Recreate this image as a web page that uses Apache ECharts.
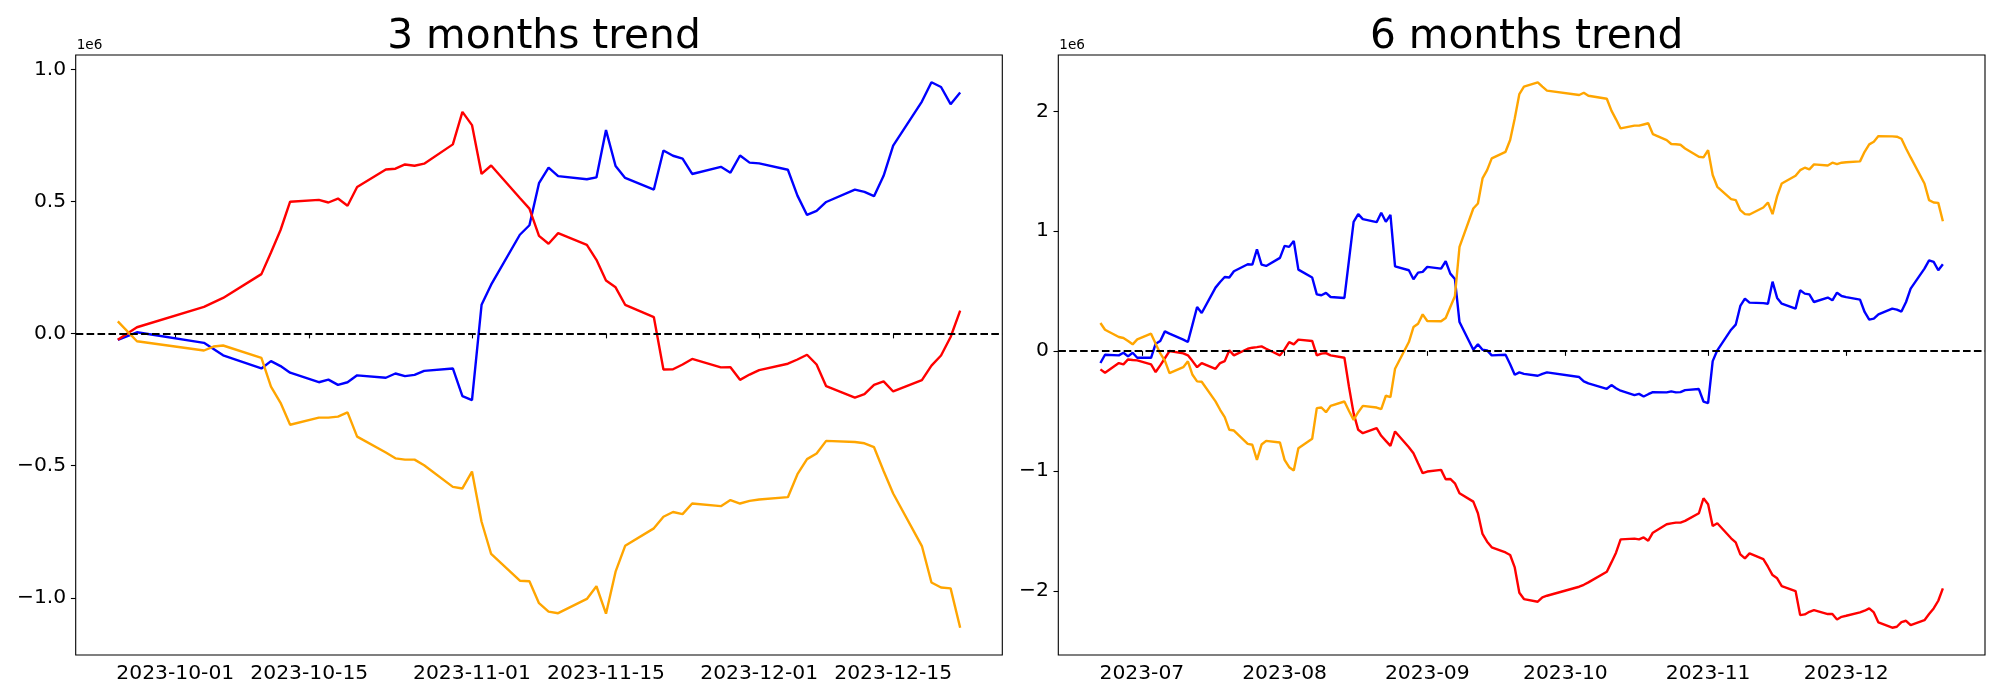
<!DOCTYPE html>
<html><head><meta charset="utf-8">
<script src="https://cdn.jsdelivr.net/npm/echarts@6/dist/echarts.min.js"></script>
<style>html,body{margin:0;padding:0;background:#fff}#c{width:2000px;height:700px}</style>
</head><body><div id="c"></div>
<script>
// ---------------- 3 months data (values in 1e6) ----------------
const dates3m = [
 '2023-09-25','2023-09-27',
 '2023-10-04','2023-10-05','2023-10-06','2023-10-10','2023-10-11','2023-10-12','2023-10-13','2023-10-16','2023-10-17','2023-10-18','2023-10-19','2023-10-20','2023-10-23','2023-10-24','2023-10-25','2023-10-26','2023-10-27','2023-10-30','2023-10-31',
 '2023-11-01','2023-11-02','2023-11-03','2023-11-06','2023-11-07','2023-11-08','2023-11-09','2023-11-10','2023-11-13','2023-11-14','2023-11-15','2023-11-16','2023-11-17','2023-11-20','2023-11-21','2023-11-22','2023-11-23','2023-11-24','2023-11-27','2023-11-28','2023-11-29','2023-11-30',
 '2023-12-01','2023-12-04','2023-12-05','2023-12-06','2023-12-07','2023-12-08','2023-12-11','2023-12-12','2023-12-13','2023-12-14','2023-12-15','2023-12-18','2023-12-19','2023-12-20','2023-12-21','2023-12-22'
];
const blue3m = [
 -0.024, 0.005,
 -0.035,-0.058,-0.082,-0.132,-0.104,-0.123,-0.148,-0.184,-0.174,-0.194,-0.184,-0.158,-0.167,-0.151,-0.161,-0.156,-0.141,-0.132,-0.237,
 -0.252,0.109,0.185,0.374,0.410,0.569,0.628,0.596,0.584,0.591,0.770,0.634,0.589,0.545,0.693,0.673,0.662,0.604,0.631,0.609,0.674,0.647,
 0.644,0.620,0.522,0.449,0.464,0.498,0.545,0.536,0.520,0.597,0.711,0.878,0.951,0.933,0.868,0.912
];
const red3m = [
 -0.023, 0.024,
 0.101,0.118,0.135,0.225,0.307,0.392,0.499,0.506,0.496,0.511,0.484,0.555,0.621,0.624,0.640,0.635,0.643,0.716,0.839,
 0.789,0.604,0.636,0.513,0.473,0.370,0.340,0.380,0.336,0.279,0.201,0.175,0.109,0.062,-0.136,-0.135,-0.117,-0.096,-0.128,-0.127,-0.175,-0.155,
 -0.138,-0.114,-0.098,-0.080,-0.117,-0.199,-0.242,-0.229,-0.194,-0.181,-0.219,-0.176,-0.121,-0.083,-0.013,0.087
];
const orange3m = [
 0.046,-0.029,
 -0.064,-0.049,-0.045,-0.092,-0.201,-0.262,-0.345,-0.318,-0.318,-0.314,-0.298,-0.390,-0.450,-0.472,-0.477,-0.477,-0.498,-0.580,-0.586,
 -0.522,-0.712,-0.834,-0.935,-0.937,-1.020,-1.052,-1.058,-1.004,-0.956,-1.060,-0.901,-0.803,-0.737,-0.693,-0.675,-0.683,-0.643,-0.653,-0.630,-0.643,-0.633,
 -0.628,-0.619,-0.532,-0.475,-0.454,-0.406,-0.410,-0.415,-0.430,-0.520,-0.605,-0.804,-0.942,-0.961,-0.964,-1.113
];
const xTicks3m = ['2023-10-01','2023-10-15','2023-11-01','2023-11-15','2023-12-01','2023-12-15'];
const yTicks3m = [-1.0,-0.5,0.0,0.5,1.0];

// ---------------- 6 months data (values in 1e6) ----------------
const dates6m = [
 '2023-06-22','2023-06-23','2023-06-26','2023-06-27','2023-06-28','2023-06-29','2023-06-30',
 '2023-07-03','2023-07-04','2023-07-05','2023-07-06','2023-07-07','2023-07-10','2023-07-11','2023-07-12','2023-07-13','2023-07-14','2023-07-17','2023-07-18','2023-07-19','2023-07-20','2023-07-21','2023-07-24','2023-07-25','2023-07-26','2023-07-27','2023-07-28','2023-07-31',
 '2023-08-01','2023-08-02','2023-08-03','2023-08-04','2023-08-07','2023-08-08','2023-08-09','2023-08-10','2023-08-11','2023-08-14','2023-08-15','2023-08-16','2023-08-17','2023-08-18','2023-08-21','2023-08-22','2023-08-23','2023-08-24','2023-08-25','2023-08-28','2023-08-29','2023-08-30','2023-08-31',
 '2023-09-01','2023-09-04','2023-09-05','2023-09-06','2023-09-07','2023-09-08','2023-09-11','2023-09-12','2023-09-13','2023-09-14','2023-09-15','2023-09-18','2023-09-19','2023-09-20','2023-09-21','2023-09-22','2023-09-25','2023-09-26','2023-09-27',
 '2023-10-04','2023-10-05','2023-10-06','2023-10-10','2023-10-11','2023-10-12','2023-10-13','2023-10-16','2023-10-17','2023-10-18','2023-10-19','2023-10-20','2023-10-23','2023-10-24','2023-10-25','2023-10-26','2023-10-27','2023-10-30','2023-10-31',
 '2023-11-01','2023-11-02','2023-11-03','2023-11-06','2023-11-07','2023-11-08','2023-11-09','2023-11-10','2023-11-13','2023-11-14','2023-11-15','2023-11-16','2023-11-17','2023-11-20','2023-11-21','2023-11-22','2023-11-23','2023-11-24','2023-11-27','2023-11-28','2023-11-29','2023-11-30',
 '2023-12-01','2023-12-04','2023-12-05','2023-12-06','2023-12-07','2023-12-08','2023-12-11','2023-12-12','2023-12-13','2023-12-14','2023-12-15','2023-12-18','2023-12-19','2023-12-20','2023-12-21','2023-12-22'
];
const blue6m = [
 -0.100,-0.031,-0.036,-0.014,-0.045,-0.014,-0.056,
 -0.056,0.061,0.084,0.164,0.145,0.095,0.075,0.22,0.368,0.317,0.529,0.576,0.618,0.613,0.666,0.724,0.721,0.849,0.721,0.710,0.777,
 0.877,0.869,0.919,0.679,0.613,0.473,0.465,0.485,0.451,0.443,0.76,1.078,1.142,1.100,1.075,1.153,1.078,1.136,0.707,0.674,0.599,0.654,0.660,
 0.702,0.688,0.749,0.646,0.601,0.242,0.011,0.056,0.011,0.006,-0.036,-0.031,-0.11,-0.198,-0.178,-0.19,-0.206,-0.19,-0.178,
 -0.217,-0.253,-0.27,-0.315,-0.284,-0.31,-0.331,-0.368,-0.357,-0.379,-0.36,-0.343,-0.345,-0.337,-0.345,-0.343,-0.326,-0.317,-0.421,
 -0.434,-0.084,0.006,0.178,0.220,0.376,0.437,0.404,0.40,0.395,0.579,0.443,0.395,0.354,0.507,0.479,0.473,0.409,0.446,0.423,0.487,0.459,
 0.45,0.429,0.326,0.262,0.270,0.306,0.354,0.345,0.329,0.409,0.521,0.688,0.757,0.744,0.674,0.724
];
const orange6m = [
 0.234,0.178,0.117,0.109,0.084,0.056,0.097,
 0.145,0.06,-0.02,-0.08,-0.184,-0.135,-0.086,-0.198,-0.253,-0.256,-0.420,-0.490,-0.551,-0.657,-0.663,-0.774,-0.782,-0.908,-0.780,-0.749,-0.763,
 -0.908,-0.969,-0.997,-0.810,-0.732,-0.476,-0.471,-0.510,-0.457,-0.421,-0.50,-0.574,-0.51,-0.457,-0.471,-0.485,-0.373,-0.384,-0.148,0.075,0.200,0.228,0.306,
 0.251,0.248,0.276,0.368,0.457,0.869,1.189,1.231,1.440,1.509,1.607,1.662,1.760,1.94,2.144,2.205,2.242,2.205,2.172,
 2.136,2.155,2.13,2.105,2.005,1.933,1.857,1.880,1.880,1.89,1.90,1.81,1.76,1.727,1.725,1.721,1.69,1.621,1.615,
 1.676,1.468,1.370,1.267,1.259,1.175,1.142,1.139,1.197,1.239,1.142,1.292,1.398,1.462,1.509,1.529,1.515,1.557,1.548,1.571,1.559,1.571,
 1.575,1.582,1.662,1.724,1.746,1.793,1.791,1.788,1.771,1.690,1.615,1.398,1.259,1.239,1.236,1.083
];
const red6m = [
 -0.153,-0.181,-0.100,-0.111,-0.070,-0.075,-0.078,
 -0.111,-0.175,-0.120,-0.06,0.0,-0.02,-0.036,-0.084,-0.135,-0.100,-0.148,-0.100,-0.084,0.006,-0.036,0.019,0.028,0.033,0.039,0.019,-0.036,
 0.014,0.075,0.056,0.095,0.084,-0.036,-0.022,-0.017,-0.036,-0.056,-0.30,-0.52,-0.657,-0.685,-0.643,-0.707,-0.749,-0.791,-0.671,-0.802,-0.852,-0.936,-1.019,
 -1.005,-0.991,-1.069,-1.067,-1.103,-1.186,-1.256,-1.353,-1.526,-1.590,-1.637,-1.68,-1.701,-1.805,-2.016,-2.069,-2.091,-2.055,-2.041,
 -1.966,-1.95,-1.93,-1.841,-1.763,-1.682,-1.571,-1.565,-1.571,-1.555,-1.582,-1.515,-1.445,-1.437,-1.431,-1.431,-1.417,-1.353,-1.228,
 -1.278,-1.459,-1.437,-1.562,-1.596,-1.696,-1.729,-1.688,-1.735,-1.799,-1.869,-1.896,-1.960,-2.002,-2.203,-2.197,-2.175,-2.161,-2.194,-2.194,-2.239,-2.217,
 -2.208,-2.180,-2.166,-2.147,-2.180,-2.264,-2.308,-2.300,-2.261,-2.250,-2.286,-2.245,-2.194,-2.147,-2.083,-1.980
];
const xTicks6m = ['2023-07-01','2023-08-01','2023-09-01','2023-10-01','2023-11-01','2023-12-01'];
const yTicks6m = [-2,-1,0,1,2];

const titles = ['3 months trend','6 months trend'];
const offsetText = '1e6';

// ---------------- helpers ----------------
const ts = s => new Date(s + 'T00:00:00Z').getTime();
const pad = (n) => (n < 10 ? '0' : '') + n;
function extent(arrs) {
  let mn = Infinity, mx = -Infinity;
  arrs.forEach(a => a.forEach(v => { if (v < mn) mn = v; if (v > mx) mx = v; }));
  const m = (mx - mn) * 0.05;
  return [mn - m, mx + m];
}
function xExtent(dates) {
  const a = ts(dates[0]), b = ts(dates[dates.length - 1]);
  const m = (b - a) * 0.05;
  return [a - m, b + m];
}
const minus = v => (v < 0 ? '\u2212' : '');
const FONT = 'DejaVu Sans';

const G = [
  { left: 75.7, top: 55, width: 926.6, height: 600 },
  { left: 1058.3, top: 55, width: 926.7, height: 600 }
];

const y3 = extent([blue3m, red3m, orange3m]);
const y6 = extent([blue6m, red6m, orange6m]);
const x3 = xExtent(dates3m);
const x6 = xExtent(dates6m);

function xAxis(idx, ext, ticks, fmt) {
  const tv = ticks.map(ts);
  return {
    type: 'value', gridIndex: idx, min: ext[0], max: ext[1], scale: true,
    axisLine: { show: false },
    splitLine: { show: false },
    axisTick: { show: true, inside: false, length: 4.8, customValues: tv, lineStyle: { color: '#000', width: 1.1 } },
    axisLabel: { show: true, customValues: tv, margin: 9, fontSize: 20.3, color: '#000', fontFamily: FONT, hideOverlap: false,
      showMinLabel: true, showMaxLabel: true,
      formatter: v => { const d = new Date(v); return fmt(d); } }
  };
}
function yAxis(idx, ext, ticks, digits) {
  return {
    type: 'value', gridIndex: idx, min: ext[0], max: ext[1],
    axisLine: { show: false },
    splitLine: { show: false },
    axisTick: { show: true, inside: false, length: 4.8, customValues: ticks, lineStyle: { color: '#000', width: 1.1 } },
    axisLabel: { show: true, customValues: ticks, margin: 9.5, fontSize: 20.3, color: '#000', fontFamily: FONT, hideOverlap: false,
      formatter: v => minus(v) + Math.abs(v).toFixed(digits) }
  };
}
function lines(idx, dates, blue, red, orange) {
  const mk = (vals, color, z, withZero) => {
    const s = {
      type: 'line', xAxisIndex: idx, yAxisIndex: idx,
      data: dates.map((d, i) => [ts(d), vals[i]]),
      showSymbol: false, symbol: 'none', smooth: false, z: z,
      lineStyle: { color: color, width: 2.4 }, itemStyle: { color: color },
      emphasis: { disabled: true }
    };
    if (withZero) {
      s.markLine = {
        silent: true, symbol: ['none', 'none'], label: { show: false },
        lineStyle: { color: '#000', width: 2, type: [7.6, 3.3] },
        emphasis: { disabled: true },
        data: [{ yAxis: 0 }]
      };
    }
    return s;
  };
  return [mk(blue, '#0000ff', 2, false), mk(red, '#ff0000', 3, false), mk(orange, '#ffa500', 4, true)];
}

const option = {
  animation: false,
  backgroundColor: '#fff',
  title: [
    { text: titles[0], left: G[0].left + G[0].width / 2, textAlign: 'center', top: 12,
      textStyle: { fontSize: 40.7, fontWeight: 'normal', color: '#000', fontFamily: FONT } },
    { text: titles[1], left: G[1].left + G[1].width / 2, textAlign: 'center', top: 12,
      textStyle: { fontSize: 40.7, fontWeight: 'normal', color: '#000', fontFamily: FONT } }
  ],
  grid: G.map(g => Object.assign({ show: true, borderColor: '#000', borderWidth: 1.1, backgroundColor: 'transparent', containLabel: false, outerBoundsMode: 'none' }, g)),
  xAxis: [
    xAxis(0, x3, xTicks3m, d => d.getUTCFullYear() + '-' + pad(d.getUTCMonth() + 1) + '-' + pad(d.getUTCDate())),
    xAxis(1, x6, xTicks6m, d => d.getUTCFullYear() + '-' + pad(d.getUTCMonth() + 1))
  ],
  yAxis: [ yAxis(0, y3, yTicks3m, 1), yAxis(1, y6, yTicks6m, 0) ],
  graphic: [
    { type: 'text', x: G[0].left + 1, y: 52, style: { text: offsetText, fill: '#000', font: '13.6px "DejaVu Sans"', verticalAlign: 'bottom' } },
    { type: 'text', x: G[1].left + 1, y: 52, style: { text: offsetText, fill: '#000', font: '13.6px "DejaVu Sans"', verticalAlign: 'bottom' } }
  ],
  series: [].concat(lines(0, dates3m, blue3m, red3m, orange3m), lines(1, dates6m, blue6m, red6m, orange6m))
};

const chart = echarts.init(document.getElementById('c'), null, { renderer: 'canvas', width: 2000, height: 700 });
chart.setOption(option);
</script></body></html>
